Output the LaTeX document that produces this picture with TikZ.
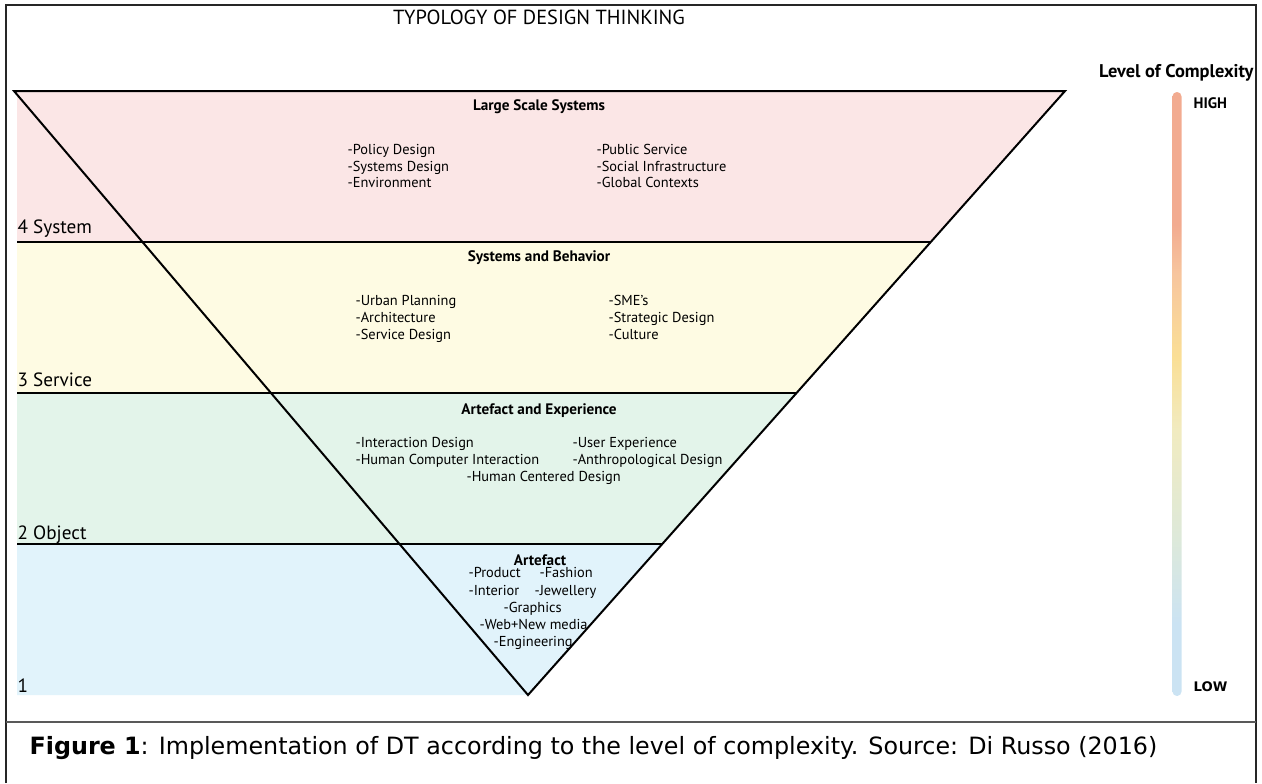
\documentclass[tikz,border=0pt]{standalone}
\usepackage{fontspec}
\setmainfont{PT Sans}
\newfontfamily\captionfont{DejaVu Sans}
\usetikzlibrary{calc}

\definecolor{syspink}{HTML}{FBE6E6}
\definecolor{svcyellow}{HTML}{FEFBE3}
\definecolor{objgreen}{HTML}{E3F4EA}
\definecolor{artblue}{HTML}{E1F3FB}
\definecolor{barhigh}{HTML}{F2AB90}
\definecolor{barpeach}{HTML}{F7C59E}
\definecolor{baryellow}{HTML}{FADF96}
\definecolor{barpale}{HTML}{F1EBC0}
\definecolor{bargreen}{HTML}{DDE9DA}
\definecolor{barlow}{HTML}{CBE3F3}

% colour bar, low (bottom) to high (top)
\pgfdeclareverticalshading{complexity}{100bp}{%
  color(0bp)=(barlow);
  color(25bp)=(barlow);
  color(31bp)=(barlow);
  color(38bp)=(bargreen);
  color(47bp)=(barpale);
  color(53bp)=(baryellow);
  color(60bp)=(barpeach);
  color(64bp)=(barhigh);
  color(75bp)=(barhigh);
  color(100bp)=(barhigh)}

\begin{document}
\begin{tikzpicture}[x=0.5pt,y=-0.5pt,semithick,
  edge/.style={line width=1pt,black},
  item/.style={anchor=base west,inner sep=0pt,font=\fontsize{7.2}{8}\selectfont},
  head/.style={anchor=base,inner sep=0pt,font=\bfseries\fontsize{7.6}{9}\selectfont},
  level/.style={anchor=base west,inner sep=0pt,font=\fontsize{9.6}{11}\selectfont},
  scalelabel/.style={anchor=base west,inner sep=0pt,font=\bfseries\fontsize{7.6}{9}\selectfont}]

\useasboundingbox (0,0) rectangle (1262,783);

% outer frame and caption rule
\draw[line width=1.3pt,black!85] (6,783) -- (6,5) -- (1256,5) -- (1256,783);
\draw[line width=1pt,black!65] (6,722) -- (1256,722);

\node (title) at (539,24) [anchor=base,inner sep=0pt,font=\fontsize{10.2}{12}\selectfont] {TYPOLOGY OF DESIGN THINKING};

% the inverted triangle, cut in four bands
\coordinate (tl) at (14,91);
\coordinate (tr) at (1065,91);
\coordinate (apex) at (528,695);
\coordinate (lft) at (17,91);
\coordinate (r4) at ($(tr)!0.25!(apex)$);
\coordinate (r3) at ($(tr)!0.5!(apex)$);
\coordinate (r2) at ($(tr)!0.75!(apex)$);

\fill[syspink] (lft) -- (tr) -- (r4) -- (lft |- r4) -- cycle;
\fill[svcyellow] (lft |- r4) -- (r4) -- (r3) -- (lft |- r3) -- cycle;
\fill[objgreen] (lft |- r3) -- (r3) -- (r2) -- (lft |- r2) -- cycle;
\fill[artblue] (lft |- r2) -- (r2) -- (apex) -- (lft |- apex) -- cycle;

\draw[edge] (tl) -- (tr) -- (apex) -- cycle;
\draw[edge] (lft |- r4) -- (r4);
\draw[edge] (lft |- r3) -- (r3);
\draw[edge] (lft |- r2) -- (r2);

\node[level] (lvl4) at (17,233) {4 System};
\node[level] (lvl3) at (17,386) {3 Service};
\node[level] (lvl2) at (17,539) {2 Object};
\node[level] (lvl1) at (17,692) {1};

% band 4
\node[head] (large) at (539,110) {Large Scale Systems};
\node[item] (policy) at (347,154) {-Policy Design};
\node[item] (sysdes) at (347,171) {-Systems Design};
\node[item] (environ) at (347,187) {-Environment};
\node[item] (public) at (596,154) {-Public Service};
\node[item] (social) at (596,171) {-Social Infrastructure};
\node[item] (global) at (596,187) {-Global Contexts};

% band 3
\node[head] (behav) at (539,261) {Systems and Behavior};
\node[item] (urban) at (355,305) {-Urban Planning};
\node[item] (archi) at (355,322) {-Architecture};
\node[item] (service) at (355,339) {-Service Design};
\node[item] (sme) at (608,305) {-SME’s};
\node[item] (strat) at (608,322) {-Strategic Design};
\node[item] (culture) at (608,339) {-Culture};

% band 2
\node[head] (artexp) at (539,414) {Artefact and Experience};
\node[item] (interact) at (355,447) {-Interaction Design};
\node[item] (hci) at (355,464) {-Human Computer Interaction};
\node[item] (ux) at (572,447) {-User Experience};
\node[item] (anthro) at (572,464) {-Anthropological Design};
\node[item] (hcd) at (466,481) {-Human Centered Design};

% band 1
\node[head] (artefact) at (540,565) {Artefact};
\node[item] (product) at (468,577) {-Product};
\node[item] (fashion) at (539,577) {-Fashion};
\node[item] (interior) at (468,595) {-Interior};
\node[item] (jewel) at (534,595) {-Jewellery};
\node[item] (graph) at (503,612) {-Graphics};
\node[item] (web) at (479,629) {-Web+New media};
\node[item] (engin) at (493,646) {-Engineering};

% complexity scale
\node[scalelabel] (levelof) at (1254,77) [anchor=base east,font=\bfseries\fontsize{9.2}{10}\selectfont] {Level of Complexity};
\shade[shading=complexity,rounded corners=2.2pt] (1172.5,92) rectangle (1181.5,696);
\node[scalelabel] (high) at (1193,108) {HIGH};
\node[scalelabel] (low) at (1193,691) [font=\captionfont\bfseries\fontsize{6.6}{8}\selectfont] {LOW};

\node (caption) at (29,754) [anchor=base west,inner sep=0pt,font=\captionfont\fontsize{11.9}{13}\selectfont]
  {\textbf{Figure 1}: Implementation of DT according to the level of complexity. Source: Di Russo (2016)};

\end{tikzpicture}
\end{document}
